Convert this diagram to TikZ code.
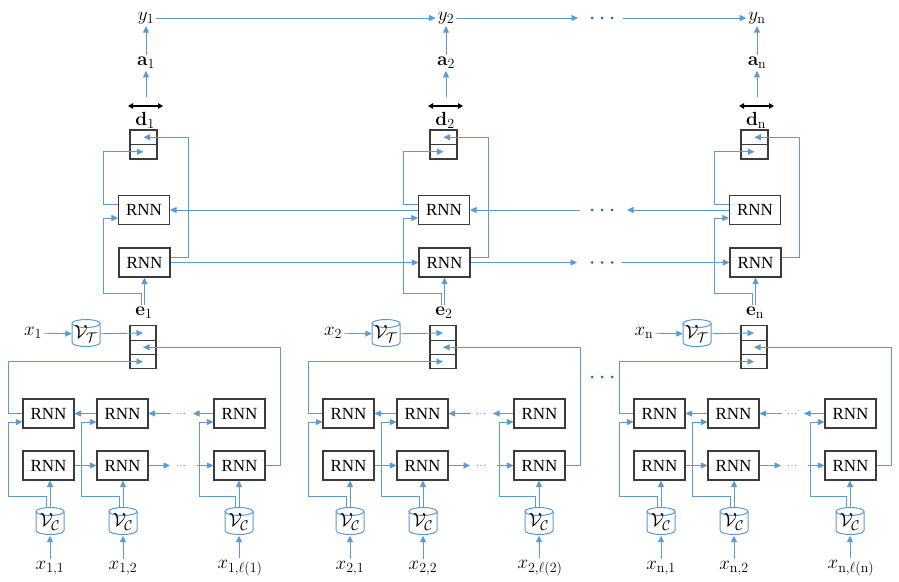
\RequirePackage{fix-cm}
\documentclass[tikz,border=0pt]{standalone}
\usepackage[no-math]{fontspec}
\newfontfamily\tms{Liberation Serif}
\DeclareMathSizes{19}{19}{14}{10}
\usetikzlibrary{arrows.meta,calc}
\definecolor{lb}{RGB}{91,155,213}
\definecolor{db}{RGB}{30,105,190}
\definecolor{bd}{RGB}{60,60,60}
\tikzset{
 ln/.style={draw=lb, line width=0.9pt},
 ar/.style={ln, -{Triangle[length=6.5pt,width=6pt]}},
 rnn/.style={draw=bd, line width=1.1pt, minimum width=51pt, minimum height=29pt, inner sep=0pt, font=\tms\fontsize{17}{20}\selectfont},
 cell/.style={draw=bd, line width=1.1pt, minimum width=26pt, minimum height=14.3pt, inner sep=0pt},
 lab/.style={inner sep=2pt, font=\fontsize{19}{22}\selectfont},
 drumbox/.style={inner sep=0pt, minimum width=28pt, minimum height=27pt, font=\fontsize{19}{22}\selectfont},
 drum/.style={draw=lb, line width=1pt, fill=white},
 dbl/.style={draw=black, line width=1.3pt, {Triangle[length=5pt,width=5.5pt]}-{Triangle[length=5pt,width=5.5pt]}},
}
\newcommand\mydrum[4]{%
 \draw[drum] (#2-14,-#3+9.5) -- (#2-14,-#3-9.5) arc[start angle=180,end angle=360,x radius=14,y radius=4] -- (#2+14,-#3+9.5);
 \draw[drum] (#2,-#3+9.5) ellipse[x radius=14,y radius=4];
 \node[drumbox] (#1) at (#2,-#3-1) {#4};
}
\begin{document}
\begin{tikzpicture}[x=1pt,y=1pt]
\useasboundingbox (0,0) rectangle (899,-581);
\foreach \o/\g/\s in {0/1/1, 300/2/2, 611/3/{\mathrm{n}}}{
 % top part
 \node[lab] (y\g) at (\o+146,-18) {$y_{\s}$};
 \node[lab] (a\g) at (\o+146,-63) {$\mathbf{a}_{\s}$};
 \draw[ar] (a\g) -- (y\g);
 \coordinate (dm\g) at (\o+146,-97);
 \coordinate (dl\g) at (\o+128,-106);
 \coordinate (dr\g) at (\o+163,-106);
 \draw[dbl] (dl\g) -- (dr\g);
 \draw[ar] (dm\g) -- (a\g);
 \node[lab] (dlab\g) at (\o+145,-120) {$\mathbf{d}_{\s}$};
 \node[cell, minimum width=27pt, minimum height=14.5pt] (dA\g) at (\o+143.5,-137.25) {};
 \node[cell, minimum width=27pt, minimum height=14.5pt] (dB\g) at (\o+143.5,-151.75) {};
 \node[rnn] (tu\g) at (\o+144,-210) {RNN};
 \node[rnn] (tl\g) at (\o+144.5,-262.5) {RNN};
 \draw[ar] ([yshift=5.5pt]tl\g.east) -| (\o+188,-137.25) -- (dA\g.center);
 \draw[ar] ([yshift=6pt]tu\g.west) -| (\o+103,-151.75) -- (dB\g.center);
 \node[lab] (el\g) at (\o+144,-313) {$\mathbf{e}_{\s}$};
 \draw[ar] (el\g.north -| tl\g.south) -- (tl\g.south);
 \draw[ar] ($(el\g.north -| tl\g.south)+(-3.5,0)$) |- (\o+103,-293) |- ([yshift=-8pt]tu\g.west);
 % e box and V_T
 \node[lab] (xl\g) at (\o+33,-333) {$x_{\s}$};
 \mydrum{vt\g}{\o+86}{333}{$\mathcal{V}_{\mathcal{T}}$}
 \draw[ar] (xl\g) -- (vt\g);
 \node[cell] (eA\g) at (\o+143,-333) {};
 \node[cell] (eB\g) at (\o+143,-347.3) {};
 \node[cell] (eC\g) at (\o+143,-361.6) {};
 \draw[ar] (vt\g) -- (eA\g.center);
 % bottom grid
 \node[rnn] (bu\g1) at (\o+48.5,-413.5) {RNN};
 \node[rnn] (bu\g2) at (\o+122.5,-413.5) {RNN};
 \node[rnn] (bu\g3) at (\o+239.5,-413.5) {RNN};
 \node[rnn] (bl\g1) at (\o+48.5,-465.5) {RNN};
 \node[rnn] (bl\g2) at (\o+122.5,-465.5) {RNN};
 \node[rnn] (bl\g3) at (\o+239.5,-465.5) {RNN};
 \draw[ar] (bl\g3.east) -| (\o+280,-347.3) -- (eB\g.center);
 \draw[ar] (bu\g1.west) -| (\o+8,-361.6) -- (eC\g.center);
 \draw[ar] (bu\g2) -- (bu\g1);
 \coordinate (ua\g) at (\o+193,-413.5);
 \coordinate (ub\g) at (\o+171,-413.5);
 \draw[ar] (bu\g3) -- (ua\g);
 \draw[ar] (ub\g) -- (bu\g2);
 \draw[ar] (bl\g1) -- (bl\g2);
 \coordinate (la\g) at (\o+170,-465.5);
 \coordinate (lb\g) at (\o+197,-465.5);
 \draw[ar] (bl\g2) -- (la\g);
 \draw[ar] (lb\g) -- (bl\g3);
 \foreach \dx in {177.5,181,184.5}{
  \fill[lb] (\o+\dx,-413.5) circle (0.6);
  \fill[lb] (\o+\dx,-465.5) circle (0.6);
 }
 % drums and inputs
 \mydrum{vc\g1}{\o+50}{521}{$\mathcal{V}_{\mathcal{C}}$}
 \mydrum{vc\g2}{\o+123}{521}{$\mathcal{V}_{\mathcal{C}}$}
 \mydrum{vc\g3}{\o+239}{521}{$\mathcal{V}_{\mathcal{C}}$}
 \draw[ar] (vc\g1.north) -- (vc\g1.north |- bl\g1.south);
 \draw[ar] (vc\g2.north) -- (vc\g2.north |- bl\g2.south);
 \draw[ar] (vc\g3.north) -- (vc\g3.north |- bl\g3.south);
 \draw[ar] ($(vc\g1.north)+(-4,0)$) |- (\o+8,-496) |- ([yshift=-8.5pt]bu\g1.west);
 \draw[ar] ($(vc\g2.north)+(-4,0)$) |- (\o+81.5,-496) |- ([yshift=-8.5pt]bu\g2.west);
 \draw[ar] ($(vc\g3.north)+(-4,0)$) |- (\o+199,-496) |- ([yshift=-8.5pt]bu\g3.west);
 \node[lab] (xa\g) at (\o+50,-568) {$x_{\s,1}$};
 \node[lab] (xb\g) at (\o+123,-568) {$x_{\s,2}$};
 \node[lab] (xc\g) at (\o+240,-568) {$x_{\s,\ell(\s)}$};
 \draw[ar] (xa\g.north -| vc\g1) -- (vc\g1);
 \draw[ar] (xb\g.north -| vc\g2) -- (vc\g2);
 \draw[ar] (xc\g.north -| vc\g3) -- (vc\g3);
}
% cross-group connectors
\draw[ar] (y1) -- (y2);
\coordinate (yd1) at (578,-18);
\coordinate (yd2) at (623,-18);
\draw[ar] (y2) -- (yd1);
\draw[ar] (yd2) -- (y3);
\draw[ar] (tu2) -- (tu1);
\coordinate (tua) at (627,-210);
\coordinate (tub) at (580,-210);
\draw[ar] (tu3) -- (tua);
\draw[ar] (tub) -- (tu2);
\draw[ar] (tl1) -- (tl2);
\coordinate (tla) at (577,-262.5);
\coordinate (tlb) at (621,-262.5);
\draw[ar] (tl2) -- (tla);
\draw[ar] (tlb) -- (tl3);
\foreach \dx in {592,602,612}{
 \fill[db] (\dx,-18) circle (1.5);
 \fill[db] (\dx,-210) circle (1.5);
 \fill[db] (\dx,-262.5) circle (1.5);
 \fill[db] (\dx,-377) circle (1.5);
}
\end{tikzpicture}
\end{document}
